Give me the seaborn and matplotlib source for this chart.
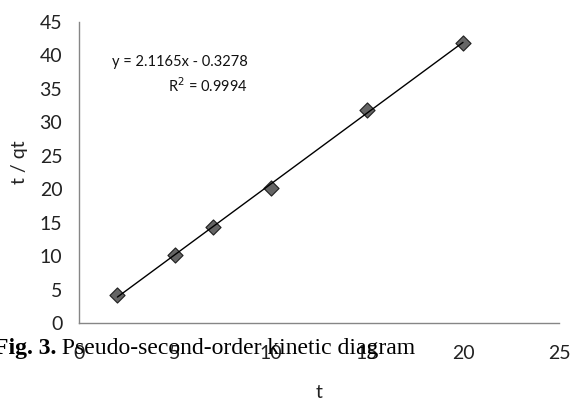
import matplotlib
matplotlib.use("Agg")
import matplotlib.pyplot as plt
import seaborn as sns
import numpy as np
import pandas as pd

# data
t_values = [2, 5, 7, 10, 15, 20]
t_over_qt = [4.2, 10.2, 14.3, 20.2, 31.9, 41.9]
x_ticks = [0, 5, 10, 15, 20, 25]
y_ticks = [0, 5, 10, 15, 20, 25, 30, 35, 40, 45]
equation_text = "y = 2.1165x - 0.3278"
r2_text = "R$^2$ = 0.9994"
caption_bold = "Fig. 3."
caption_rest = " Pseudo-second-order kinetic diagram"

sns.set_style("white")
plt.rcParams['font.family'] = ['Lato', 'DejaVu Sans']

df = pd.DataFrame({"t": t_values, "t/qt": t_over_qt})

fig = plt.figure(figsize=(5.71, 3.99), dpi=100)
ax = fig.add_axes([79/571, 1-323/399, (559-79)/571, (323-22)/399])

sns.regplot(data=df, x="t", y="t/qt", ax=ax, ci=None, marker="D",
            scatter_kws=dict(s=60, color="#3f3f3f", edgecolors="black", linewidths=0.8, zorder=2),
            line_kws=dict(color="black", lw=1.0, zorder=3))

ax.set_xlim(0, 25)
ax.set_ylim(0, 45)
ax.set_xticks(x_ticks)
ax.set_yticks(y_ticks)
ax.tick_params(axis="both", direction="out", length=5, width=1, color="#868686",
               labelsize=14, labelcolor="#222222")
ax.tick_params(axis="x", pad=11)
ax.tick_params(axis="y", pad=7)
for s in ["top", "right"]:
    ax.spines[s].set_visible(False)
for s in ["left", "bottom"]:
    ax.spines[s].set_color("#868686")
    ax.spines[s].set_linewidth(1)

ax.set_xlabel("")
ax.set_ylabel("")
fig.text(319/571, 1-392/399, "t", ha="center", va="center", fontsize=14, color="#222222")
fig.text(20/571, 1-162/399, "t / qt", ha="center", va="center", rotation=90, fontsize=14, color="#222222")

ax.text(248/571, 1-62/399, equation_text, transform=fig.transFigure, ha="right", va="center",
        fontsize=10.5, color="#111111")
ax.text(248/571, 1-86/399, r2_text, transform=fig.transFigure, ha="right", va="center",
        fontsize=10.5, color="#111111")

# caption overlapping the axis labels
fig.canvas.draw()
renderer = fig.canvas.get_renderer()
t1 = fig.text(-6/571, 1-354/399, caption_bold, ha="left", va="baseline", fontsize=17,
              fontweight="bold", family="Liberation Serif", color="black")
bb = t1.get_window_extent(renderer)
fig.text(bb.x1/fig.bbox.width, 1-354/399, caption_rest, ha="left", va="baseline", fontsize=17,
         family="Liberation Serif", color="black")

fig.savefig("out.png", dpi=100)
